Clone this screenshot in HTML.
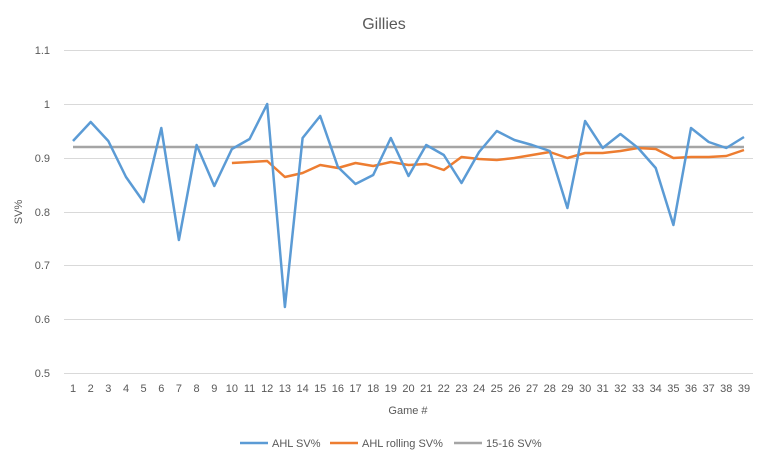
<!DOCTYPE html>
<html><head><meta charset="utf-8"><style>
html,body{margin:0;padding:0;background:#fff;}
svg{display:block;font-family:"Liberation Sans",sans-serif;}
</style></head><body>
<svg width="769" height="464" viewBox="0 0 769 464">
<rect x="0" y="0" width="769" height="464" fill="#fff"/>
<text x="384" y="29" font-size="16" fill="#595959" text-anchor="middle">Gillies</text>
<g stroke="#d9d9d9" stroke-width="1">
<line x1="64" x2="753" y1="50.5" y2="50.5"/>
<line x1="64" x2="753" y1="104.5" y2="104.5"/>
<line x1="64" x2="753" y1="158.5" y2="158.5"/>
<line x1="64" x2="753" y1="212.5" y2="212.5"/>
<line x1="64" x2="753" y1="265.5" y2="265.5"/>
<line x1="64" x2="753" y1="319.5" y2="319.5"/>
<line x1="64" x2="753" y1="373.5" y2="373.5"/>
</g>
<g font-size="11" fill="#595959" text-anchor="end">
<text x="50" y="54">1.1</text>
<text x="50" y="108">1</text>
<text x="50" y="162">0.9</text>
<text x="50" y="216">0.8</text>
<text x="50" y="269">0.7</text>
<text x="50" y="323">0.6</text>
<text x="50" y="377">0.5</text>
</g>
<text x="22" y="212" font-size="11" fill="#595959" text-anchor="middle" transform="rotate(-90 22 212)">SV%</text>
<g id="xl" font-size="11" fill="#595959" text-anchor="middle"></g>
<text x="408" y="414" font-size="11" fill="#595959" text-anchor="middle">Game #</text>
<polyline id="gray" fill="none" stroke="#a5a5a5" stroke-width="2.5"/>
<polyline id="orange" fill="none" stroke="#ed7d31" stroke-width="2.5" stroke-linejoin="round"/>
<polyline id="blue" fill="none" stroke="#5b9bd5" stroke-width="2.5" stroke-linejoin="round"/>
<g font-size="11" fill="#595959">
<line x1="240" x2="268" y1="443" y2="443" stroke="#5b9bd5" stroke-width="2.5"/>
<text x="272" y="447">AHL SV%</text>
<line x1="330" x2="358" y1="443" y2="443" stroke="#ed7d31" stroke-width="2.5"/>
<text x="362" y="447">AHL rolling SV%</text>
<line x1="454" x2="482" y1="443" y2="443" stroke="#a5a5a5" stroke-width="2.5"/>
<text x="486" y="447">15-16 SV%</text>
</g>
</svg>
<script>
var x0=73,dx=(744-73)/38;
function X(i){return x0+(i-1)*dx;}
var blue=[141,122,141,177,202,128,240,145,186,149,139,104,307,138,116,167,184,175,138,176,145,155,183,152,131,140,145,151,208,121,148,134,148,168,225,128,142,148,137];
var orange=[163,162,161,177,173,165,168,163,166,162,165,164,170,157,159,160,158,155,152,158,153,153,151,148,149,158,157,157,156,150];
var s=[];for(var i=0;i<39;i++)s.push(X(i+1).toFixed(1)+","+blue[i]);
document.getElementById('blue').setAttribute('points',s.join(' '));
s=[];for(var i=0;i<30;i++)s.push(X(i+10).toFixed(1)+","+orange[i]);
document.getElementById('orange').setAttribute('points',s.join(' '));
document.getElementById('gray').setAttribute('points',X(1)+",147 "+X(39)+",147");
var g=document.getElementById('xl'),h='';
for(var i=1;i<=39;i++)h+='<text x="'+X(i).toFixed(1)+'" y="392">'+i+'</text>';
g.innerHTML=h;
</script>
</body></html>
